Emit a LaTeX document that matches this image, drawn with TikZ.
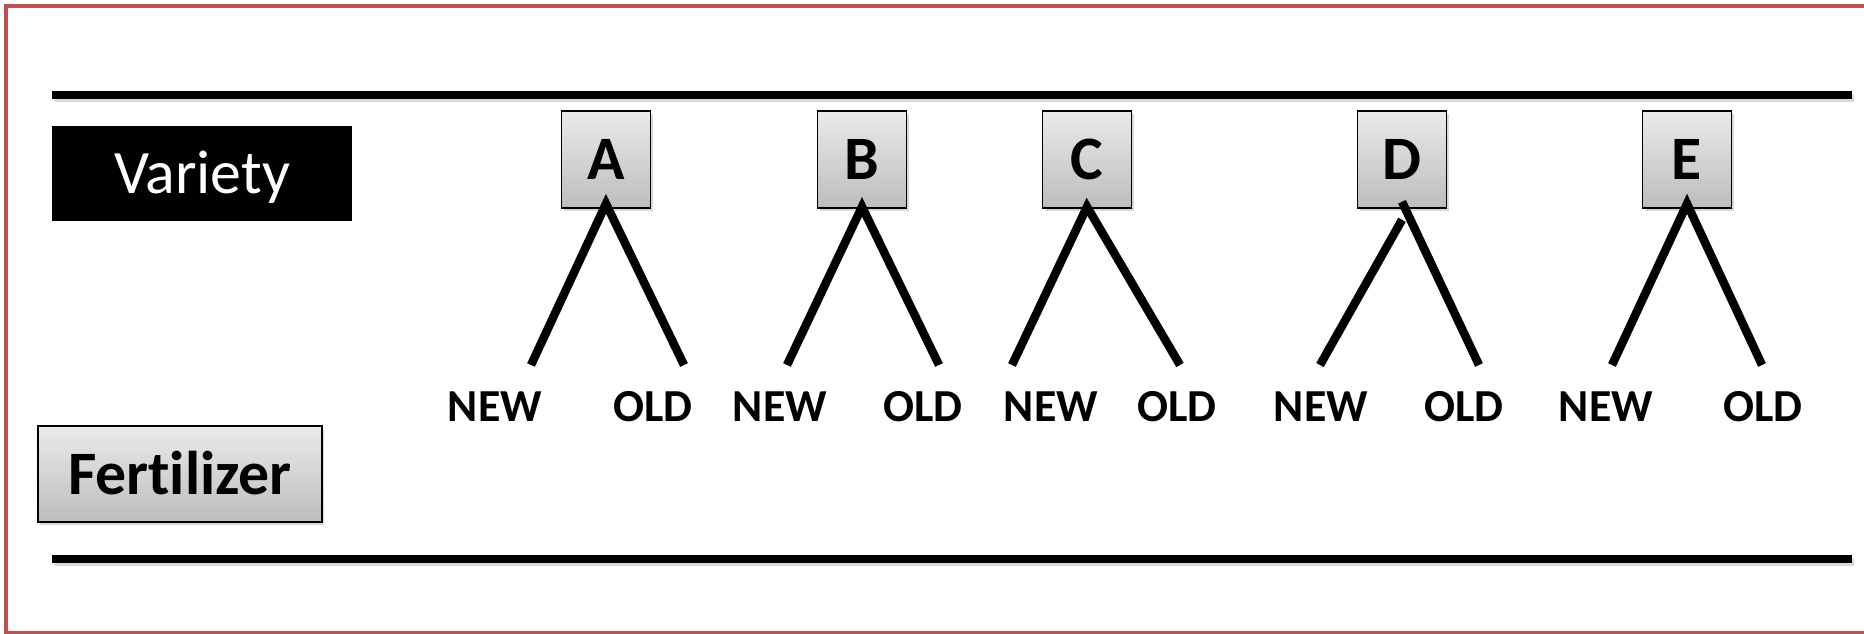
\documentclass[tikz,border=0pt]{standalone}
\usepackage{fontspec}
\setmainfont{Carlito}[Ligatures=NoCommon]
\usetikzlibrary{shadows}
\definecolor{framered}{HTML}{C0504D}
\begin{document}
\begin{tikzpicture}[x=1bp,y=-1bp,
  gbox/.style={draw=black, line width=1.6bp, top color=black!8, bottom color=black!26,
    drop shadow={shadow xshift=2bp, shadow yshift=-3bp, opacity=0.3}},
  letterbox/.style={gbox, minimum width=89bp, minimum height=97bp, inner sep=0pt,
    text height=40bp, text depth=0pt, font=\fontsize{62}{64}\selectfont\bfseries},
  lbl/.style={font=\fontsize{46}{48}\selectfont\bfseries, inner sep=0pt, anchor=base},
  rulebar/.style={line width=8.5bp},
  rshadow/.style={line width=8.5bp, draw=black, opacity=0.15},
  branch/.style={line width=8.5bp},
]
\useasboundingbox (0,0) rectangle (1864,634);
\fill[white] (0,0) rectangle (1864,634);
% frame
\draw[framered, line width=4.5bp] (1868,6) -- (6,6) -- (6,633.5) -- (1868,633.5);
% rules
\coordinate (t1) at (52,95); \coordinate (t2) at (1852,95);
\coordinate (b1) at (52,559); \coordinate (b2) at (1852,559);
\draw[rshadow] ([shift={(2bp,-3bp)}]t1) -- ([shift={(2bp,-3bp)}]t2);
\draw[rshadow] ([shift={(2bp,-3bp)}]b1) -- ([shift={(2bp,-3bp)}]b2);
\draw[rulebar] (t1) -- (t2);
\draw[rulebar] (b1) -- (b2);
% factor labels
\node[fill=black, minimum width=300bp, minimum height=95bp, inner sep=0pt,
  text height=40bp, text depth=0pt, text=white, font=\fontsize{62}{64}\selectfont]
  (variety) at (202,173.5) {Variety};
\node[gbox, minimum width=284bp, minimum height=96bp, inner sep=0pt,
  text height=40bp, text depth=0pt, font=\fontsize{62}{64}\selectfont\bfseries]
  (fert) at (180,474) {Fertilizer};
% variety boxes
\node[letterbox] (A) at (606,159.5) {A};
\node[letterbox] (B) at (862,159.5) {B};
\node[letterbox] (C) at (1087,159.5) {C};
\node[letterbox] (D) at (1402,159.5) {D};
\node[letterbox] (E) at (1687,159.5) {E};
% branch ends
\coordinate (An) at (531,365); \coordinate (Ao) at (684,365);
\coordinate (Bn) at (787,365); \coordinate (Bo) at (939,365);
\coordinate (Cn) at (1012,365); \coordinate (Co) at (1180,365);
\coordinate (Dn) at (1320,365); \coordinate (Do) at (1479,365);
\coordinate (En) at (1612,365); \coordinate (Eo) at (1762,365);
% branches
\draw[branch] (An) -- ([yshift=5bp]A.south) -- (Ao);
\draw[branch] (Bn) -- ([yshift=2bp]B.south) -- (Bo);
\draw[branch] (Cn) -- ([yshift=2bp]C.south) -- (Co);
\draw[branch] (Dn) -- ([yshift=-11bp]D.south);
\draw[branch] ([yshift=7bp]D.south) -- (Do);
\draw[branch] (En) -- ([yshift=5bp]E.south) -- (Eo);
% level labels
\node[lbl] (lAn) at (495,421) {NEW};
\node[lbl] (lAo) at (653,421) {OLD};
\node[lbl] (lBn) at (780,421) {NEW};
\node[lbl] (lBo) at (923,421) {OLD};
\node[lbl] (lCn) at (1051,421) {NEW};
\node[lbl] (lCo) at (1177,421) {OLD};
\node[lbl] (lDn) at (1321,421) {NEW};
\node[lbl] (lDo) at (1464,421) {OLD};
\node[lbl] (lEn) at (1606,421) {NEW};
\node[lbl] (lEo) at (1763,421) {OLD};
\end{tikzpicture}
\end{document}
